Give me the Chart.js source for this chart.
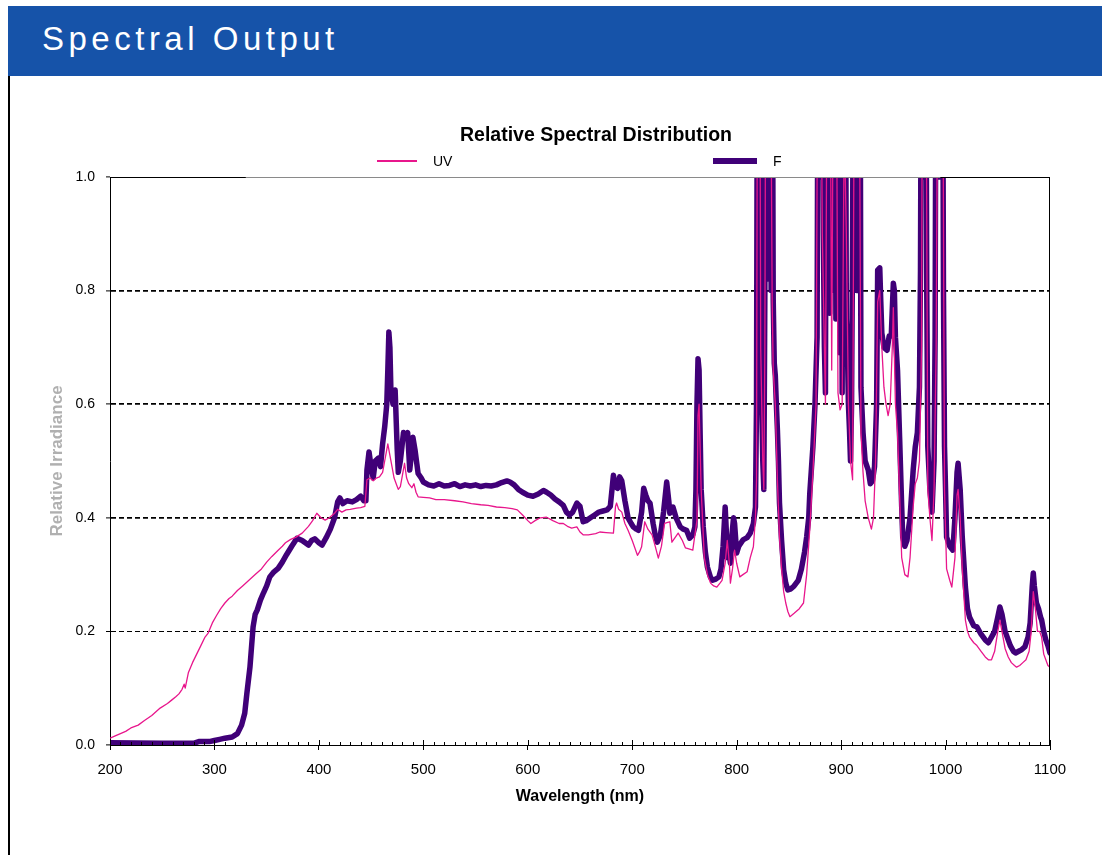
<!DOCTYPE html>
<html>
<head>
<meta charset="utf-8">
<script src="https://cdn.jsdelivr.net/npm/chart.js@4/dist/chart.umd.min.js"></script>
<style>
html,body{margin:0;padding:0;background:#fff;width:1102px;height:855px;overflow:hidden;}
#header{position:absolute;left:8px;top:6px;width:1094px;height:70px;background:#1653a9;z-index:2;}
#header span{position:absolute;left:34px;top:16px;color:#fff;font-family:"Liberation Sans",Arial,sans-serif;font-size:33px;line-height:33px;letter-spacing:4.5px;white-space:nowrap;}
#leftline{position:absolute;left:8px;top:76px;width:2px;height:779px;background:#000;z-index:2;}
#c{position:absolute;left:0;top:0;}
</style>
</head>
<body>
<div id="header"><span>Spectral Output</span></div>
<div id="leftline"></div>
<canvas id="c" width="1102" height="855"></canvas>
<script>
// ---------- data ----------
const chartTitle = 'Relative Spectral Distribution';
const xAxisTitle = 'Wavelength (nm)';
const yAxisTitle = 'Relative Irradiance';
const seriesNames = ['UV', 'F'];
const xTickValues = [200, 300, 400, 500, 600, 700, 800, 900, 1000, 1100];
const yTickValues = [0.0, 0.2, 0.4, 0.6, 0.8, 1.0];

const uvWavelengths = [200,205,210,215,220,227,233,240,248,255,259,263,266,269,271,272,275,279,283,287,291,294,298,302,306,310,314,317,322,327,333,339,345,350,355,361,365,368,373,378,384,390,394,398,402,406,410,415,418,422,426,430,436,440,444,446,449,452,455,458,461,463,465,466,468,470,472,474,476,478,480,482,484,486,489,491,493,495,500,506,512,520,530,538,546,555,562,570,578,585,590,595,600,603,607,612,618,624,630,634,638,642,647,650,653,658,665,669,675,682,684,685,687,690,693,696,700,705,707,709,712,715,719,722,725,728,731,734,736,738,741,744,748,751,755,758,760,762,763,764,766,769,772,775,778,781,784,786,789,791,793,794,796,798,800,803,806,810,813,816,818,819,820,822,823,824,825,826,827,828,830,832,834,835,837,839,841,843,845,847,849,851,855,860,864,867,870,873,876,878,880,882,884,885,887,889,891,893,895,897,899,901,903,905,907,909,911,913,915,917,919,921,923,926,929,931,933,935,937,939,941,943,945,947,949,950,952,954,956,958,961,964,966,969,971,973,975,977,978,981,983,985,987,989,991,993,997,999,1001,1004,1006,1009,1011,1012,1014,1016,1019,1021,1023,1027,1030,1034,1038,1041,1044,1047,1050,1052,1054,1057,1060,1063,1066,1068,1071,1074,1077,1080,1082,1084,1086,1088,1090,1092,1094,1096,1098,1100];
const uvValues = [0.012,0.016,0.02,0.024,0.03,0.035,0.043,0.052,0.065,0.073,0.079,0.085,0.09,0.098,0.107,0.1,0.127,0.145,0.16,0.175,0.19,0.197,0.215,0.228,0.24,0.25,0.258,0.262,0.272,0.28,0.29,0.3,0.31,0.322,0.332,0.343,0.35,0.356,0.362,0.366,0.373,0.385,0.395,0.408,0.4,0.396,0.4,0.408,0.415,0.41,0.414,0.415,0.417,0.418,0.42,0.467,0.47,0.465,0.47,0.472,0.48,0.5,0.52,0.53,0.51,0.49,0.47,0.46,0.45,0.455,0.475,0.496,0.47,0.46,0.453,0.46,0.445,0.437,0.436,0.435,0.432,0.432,0.43,0.428,0.425,0.423,0.422,0.419,0.418,0.416,0.414,0.405,0.395,0.39,0.395,0.4,0.401,0.395,0.39,0.39,0.385,0.382,0.384,0.375,0.37,0.37,0.372,0.375,0.374,0.373,0.42,0.426,0.415,0.41,0.39,0.378,0.36,0.334,0.34,0.349,0.393,0.38,0.37,0.35,0.329,0.35,0.39,0.392,0.393,0.357,0.365,0.373,0.36,0.347,0.345,0.343,0.37,0.396,0.58,0.6,0.45,0.33,0.3,0.285,0.28,0.278,0.285,0.29,0.32,0.36,0.32,0.285,0.31,0.343,0.32,0.296,0.3,0.305,0.33,0.349,0.4,0.467,1.4,1.4,0.7,0.6,0.5,0.45,0.7,1.4,1.4,1.4,0.78,0.66,0.6,0.467,0.366,0.31,0.27,0.25,0.235,0.226,0.232,0.24,0.25,0.3,0.38,0.48,0.6,1.4,1.4,0.9,0.7,0.6,1.4,1.4,0.66,1.4,1.4,0.62,0.59,0.6,1.1,0.9,0.6,0.5,0.467,1.4,1.4,1.4,0.55,0.48,0.43,0.4,0.38,0.4,0.5,0.78,0.8,0.7,0.63,0.6,0.58,0.6,0.7,0.77,0.6,0.55,0.44,0.33,0.3,0.296,0.33,0.42,0.46,0.47,0.5,0.7,1.4,1.4,0.45,0.4,0.36,0.45,0.7,1.4,1.4,0.45,0.31,0.29,0.278,0.33,0.44,0.45,0.4,0.31,0.22,0.2,0.19,0.18,0.175,0.165,0.155,0.15,0.15,0.165,0.2,0.22,0.2,0.17,0.155,0.145,0.14,0.137,0.14,0.145,0.15,0.165,0.2,0.27,0.24,0.2,0.2,0.19,0.16,0.15,0.14,0.137];

const fWavelengths = [
  200,250,280,285,295,300,305,310,317,322,326,329,331,334,337,339,341,344,347,350,353,357,361,365,369,374,379,384,390,393,396,400,403,407,411,415,418,420,423,427,432,436,440,443,445,446,448,450,452,454,457,459,461,463,465,466,467,468,469,471,473,475,476,478,481,483,485,487,489,490,492,495,498,500,505,510,515,520,525,530,535,540,545,550,555,560,565,570,575,580,583,587,591,595,600,605,610,615,618,622,626,630,634,637,640,643,647,650,653,656,660,664,668,672,676,679,682,684,686,688,690,693,696,699,701,704,706,709,711,713,715,717,720,722,724,727,730,733,735,736,739,742,746,749,752,755,758,760,761,762,763,764,765,766,768,770,772,775,777,780,783,785,787,789,790,791,792,794,795,797,798,800,802,806,810,813,816,818,819,
  820,821,822,823,824,825,826,827,828,829,830,831,832,833,834,835,836,837,838,839,840,841,
  843,845,847,849,852,855,859,862,865,867,869,870,873,875,877,
  878,879,880,881,882,883,884,885,886,887,888,889,890,891,892,893,894,895,896,897,898,899,900,901,902,903,904,905,906,907,908,909,910,911,912,913,914,915,916,917,918,919,
  921,923,926,928,930,932,934,935,937,938,939,941,944,946,948,950,951,952,954,956,958,959,961,963,966,969,971,973,975,
  976,977,978,979,980,981,982,983,
  985,987,989,990,
  991,992,993,994,995,996,997,998,999,1000,1001,
  1004,1007,1009,1011,1012,1014,1016,1019,1021,1023,1027,1030,1034,1038,1041,1044,1047,1050,1052,1054,1057,1059,1062,1065,1067,1070,1073,1076,1079,1081,1083,1084,1085,1087,1089,1091,1092,1094,1096,1098,1100];
const fValues = [
  0.004,0.003,0.003,0.006,0.006,0.008,0.01,0.012,0.014,0.02,0.035,0.056,0.09,0.137,0.208,0.23,0.238,0.255,0.268,0.28,0.296,0.305,0.311,0.322,0.335,0.35,0.364,0.36,0.352,0.36,0.363,0.356,0.352,0.365,0.38,0.4,0.428,0.435,0.425,0.43,0.428,0.432,0.438,0.43,0.43,0.484,0.516,0.49,0.47,0.5,0.505,0.49,0.53,0.56,0.6,0.66,0.727,0.7,0.62,0.6,0.625,0.52,0.48,0.5,0.55,0.545,0.55,0.484,0.52,0.542,0.52,0.478,0.47,0.463,0.458,0.456,0.46,0.456,0.457,0.46,0.455,0.458,0.456,0.458,0.455,0.457,0.456,0.458,0.462,0.465,0.463,0.458,0.45,0.445,0.44,0.438,0.442,0.448,0.445,0.44,0.433,0.428,0.422,0.41,0.405,0.41,0.426,0.42,0.393,0.395,0.4,0.405,0.41,0.412,0.414,0.42,0.475,0.455,0.452,0.472,0.465,0.43,0.4,0.39,0.384,0.38,0.378,0.41,0.452,0.44,0.43,0.426,0.39,0.37,0.357,0.37,0.41,0.463,0.43,0.408,0.419,0.4,0.384,0.38,0.378,0.364,0.37,0.384,0.45,0.6,0.68,0.66,0.55,0.45,0.384,0.34,0.313,0.295,0.29,0.292,0.296,0.31,0.35,0.419,0.38,0.33,0.349,0.32,0.36,0.4,0.39,0.338,0.35,0.361,0.365,0.373,0.39,0.419,0.6,
  1.4,1.1,1.4,0.75,0.6,0.5,0.45,0.8,1.4,0.85,1.4,0.82,1.4,0.8,1.4,0.783,0.672,0.65,0.6,0.555,0.5,0.426,
  0.36,0.308,0.285,0.273,0.275,0.28,0.29,0.31,0.34,0.366,0.4,0.443,0.525,0.6,0.718,
  1.4,1.0,1.4,1.0,1.4,0.9,0.7,0.62,1.4,0.8,1.4,0.76,1.4,0.8,1.4,0.9,1.4,0.75,1.4,0.85,1.4,0.69,1.4,0.62,1.4,0.8,1.4,0.75,0.7,0.6,0.555,0.5,0.6,0.9,1.4,0.95,1.4,0.8,1.4,1.0,1.4,0.63,
  0.55,0.5,0.484,0.46,0.465,0.49,0.6,0.836,0.84,0.78,0.725,0.7,0.695,0.72,0.72,0.813,0.8,0.718,0.66,0.542,0.42,0.366,0.35,0.36,0.4,0.484,0.525,0.55,0.63,
  0.836,1.4,1.0,1.4,1.0,1.4,0.8,0.525,
  0.45,0.41,0.5,0.72,
  1.4,1.0,1.4,1.0,1.4,1.0,1.4,0.8,0.525,0.45,0.366,
  0.35,0.343,0.4,0.48,0.496,0.45,0.366,0.278,0.24,0.225,0.21,0.208,0.195,0.185,0.18,0.19,0.2,0.225,0.243,0.23,0.2,0.19,0.175,0.165,0.162,0.165,0.168,0.173,0.19,0.215,0.28,0.303,0.28,0.25,0.24,0.225,0.22,0.2,0.185,0.175,0.162];

// ranges (nm) where the top frame line is drawn dark instead of grey
const darkTopFrameRanges = [[200, 330], [995, 1100]];

// ---------- styles ----------
const UV_COLOR = '#e8168c';
const F_COLOR = '#400078';
const FONT = '"Liberation Sans", Arial, Helvetica, sans-serif';

const toPoints = (xs, ys) => xs.slice(0, Math.min(xs.length, ys.length)).map((x, i) => ({ x: x, y: ys[i] }));

const decorPlugin = {
  id: 'decor',
  afterDraw(chart) {
    const { ctx, chartArea: a, scales } = chart;
    const xs = scales.x;
    ctx.save();
    ctx.lineWidth = 1;
    ctx.strokeStyle = '#8a8a8a';
    ctx.beginPath();
    ctx.moveTo(a.left, a.top + 0.5);
    ctx.lineTo(a.right, a.top + 0.5);
    ctx.stroke();
    ctx.strokeStyle = '#000';
    ctx.beginPath();
    darkTopFrameRanges.forEach(r => {
      ctx.moveTo(xs.getPixelForValue(r[0]), a.top + 0.5);
      ctx.lineTo(xs.getPixelForValue(r[1]), a.top + 0.5);
    });
    ctx.stroke();
    ctx.beginPath();
    ctx.moveTo(a.right - 0.5, a.top);
    ctx.lineTo(a.right - 0.5, a.bottom);
    ctx.stroke();
    ctx.beginPath();
    for (let v = xs.min; v <= xs.max; v += 10) {
      const px = Math.round(xs.getPixelForValue(v)) + 0.5;
      const major = (v % 100) === 0;
      ctx.moveTo(px, a.bottom);
      ctx.lineTo(px, a.bottom - (major ? 5 : 3));
    }
    ctx.stroke();
    ctx.fillStyle = '#000';
    ctx.textAlign = 'center';
    ctx.textBaseline = 'middle';
    ctx.font = 'bold 19.5px ' + FONT;
    ctx.fillText(chartTitle, 596, a.top - 41);
    const ly = a.top - 16;
    const items = [
      { x: 377, len: 40, w: 2, c: chart.data.datasets[0].borderColor, t: chart.data.datasets[0].label },
      { x: 713, len: 44, w: 6, c: chart.data.datasets[1].borderColor, t: chart.data.datasets[1].label }
    ];
    ctx.font = '14px ' + FONT;
    ctx.textAlign = 'left';
    items.forEach(it => {
      ctx.strokeStyle = it.c;
      ctx.lineWidth = it.w;
      ctx.beginPath();
      ctx.moveTo(it.x, ly);
      ctx.lineTo(it.x + it.len, ly);
      ctx.stroke();
      ctx.fillStyle = '#000';
      ctx.fillText(it.t, it.x + it.len + 16, ly + 1);
    });
    ctx.restore();
  }
};

new Chart(document.getElementById('c'), {
  type: 'line',
  data: {
    datasets: [
      { label: seriesNames[0], data: toPoints(uvWavelengths, uvValues), borderColor: UV_COLOR, borderWidth: 1.3, pointRadius: 0, tension: 0, clip: 0, borderJoinStyle: 'round' },
      { label: seriesNames[1], data: toPoints(fWavelengths, fValues), borderColor: F_COLOR, borderWidth: 5.5, pointRadius: 0, tension: 0, clip: 0, borderJoinStyle: 'round', borderCapStyle: 'round' }
    ]
  },
  options: {
    responsive: false,
    animation: false,
    devicePixelRatio: 1,
    layout: { padding: { left: 43, right: 52, top: 177, bottom: 45 } },
    plugins: { legend: { display: false }, title: { display: false }, tooltip: { enabled: false } },
    scales: {
      x: {
        type: 'linear',
        min: xTickValues[0],
        max: xTickValues[xTickValues.length - 1],
        afterBuildTicks: s => { s.ticks = xTickValues.map(v => ({ value: v })); },
        ticks: { color: '#000', font: { family: FONT, size: 15 }, padding: 11, maxRotation: 0, autoSkip: false, callback: v => String(v) },
        grid: { drawOnChartArea: false, drawTicks: true, tickLength: 5, color: '#000', tickColor: '#000', lineWidth: 1 },
        border: { color: '#000', width: 1 },
        title: { display: true, text: xAxisTitle, color: '#000', font: { family: FONT, size: 16, weight: 'bold' } },
        afterFit: s => { s.height = 65; }
      },
      y: {
        min: 0,
        max: 1,
        afterBuildTicks: s => { s.ticks = yTickValues.map(v => ({ value: v })); },
        ticks: { color: '#000', font: { family: FONT, size: 14 }, padding: 11, callback: v => Number(v).toFixed(1) },
        grid: {
          drawTicks: true, tickLength: 4, tickColor: '#000', tickWidth: 1,
          color: c => (c.tick && c.tick.value > 0.01 && c.tick.value < 0.99) ? '#000' : 'rgba(0,0,0,0)',
          lineWidth: c => (c.tick && Math.abs(c.tick.value - 0.2) < 0.01) ? 1 : 1.8
        },
        border: { color: '#000', width: 1, dash: [5, 3] },
        title: { display: true, text: yAxisTitle, color: '#b0b0b0', font: { family: FONT, size: 17, weight: 'bold' } },
        afterFit: s => { s.width = 67; }
      }
    }
  },
  plugins: [decorPlugin]
});
</script>
</body>
</html>
